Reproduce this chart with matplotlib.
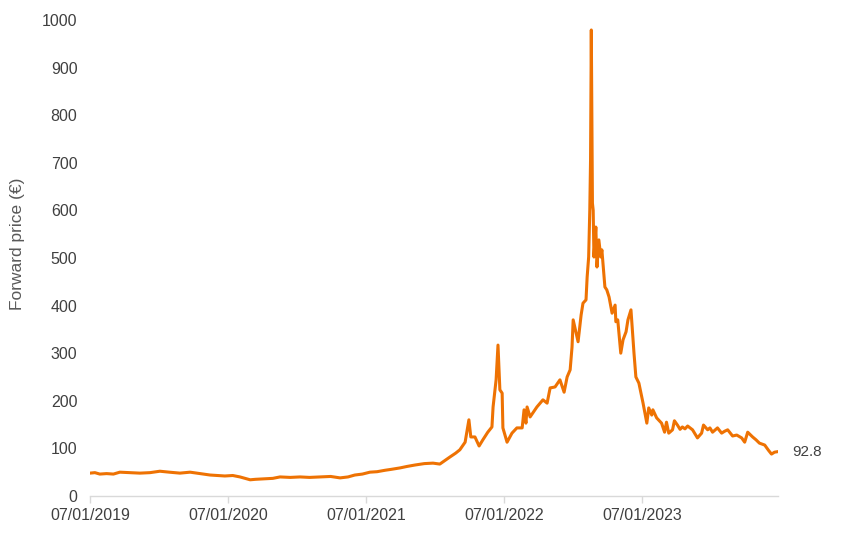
import matplotlib.pyplot as plt
import matplotlib.dates as mdates
import pandas as pd

# forward price series
dates = [
    "2019-01-07", "2019-01-20", "2019-02-02", "2019-02-20", "2019-03-10", "2019-03-27",
    "2019-04-20", "2019-05-19", "2019-06-15", "2019-07-11", "2019-08-05", "2019-09-02",
    "2019-09-29", "2019-10-25", "2019-11-21", "2019-12-30", "2020-01-20", "2020-02-08",
    "2020-03-06", "2020-03-20", "2020-04-14", "2020-05-05", "2020-05-24", "2020-06-20",
    "2020-07-16", "2020-08-10", "2020-09-07", "2020-10-05", "2020-10-30", "2020-11-20",
    "2020-12-08", "2020-12-28", "2021-01-17", "2021-02-05", "2021-02-26", "2021-03-15",
    "2021-04-07", "2021-04-25", "2021-05-16", "2021-06-10", "2021-07-03", "2021-07-21",
    "2021-08-17", "2021-09-01", "2021-09-12", "2021-09-26", "2021-10-06", "2021-10-11",
    "2021-10-22", "2021-11-02", "2021-11-12", "2021-11-25", "2021-12-06", "2021-12-09",
    "2021-12-17", "2021-12-22", "2021-12-27", "2022-01-02", "2022-01-04", "2022-01-15",
    "2022-01-28", "2022-02-10", "2022-02-24", "2022-03-01", "2022-03-06", "2022-03-09",
    "2022-03-17", "2022-04-04", "2022-04-20", "2022-05-01", "2022-05-09", "2022-05-22",
    "2022-06-04", "2022-06-15", "2022-06-23", "2022-07-01", "2022-07-06", "2022-07-09",
    "2022-07-22", "2022-07-30", "2022-08-04", "2022-08-12", "2022-08-15", "2022-08-19",
    "2022-08-22", "2022-08-24", "2022-08-26", "2022-08-29", "2022-08-31", "2022-09-02",
    "2022-09-07", "2022-09-10", "2022-09-15", "2022-09-20", "2022-09-23", "2022-10-01",
    "2022-10-06", "2022-10-12", "2022-10-20", "2022-10-28", "2022-10-30", "2022-11-04",
    "2022-11-12", "2022-11-18", "2022-11-26", "2022-12-01", "2022-12-09", "2022-12-17",
    "2022-12-22", "2022-12-30", "2023-01-10", "2023-01-20", "2023-01-25", "2023-02-02",
    "2023-02-05", "2023-02-15", "2023-02-28", "2023-03-08", "2023-03-13", "2023-03-19",
    "2023-03-29", "2023-04-03", "2023-04-11", "2023-04-18", "2023-04-24", "2023-05-01",
    "2023-05-08", "2023-05-21", "2023-06-03", "2023-06-14", "2023-06-19", "2023-06-30",
    "2023-07-06", "2023-07-13", "2023-07-26", "2023-08-06", "2023-08-14", "2023-08-22",
    "2023-09-04", "2023-09-15", "2023-09-28", "2023-10-06", "2023-10-14", "2023-10-27",
    "2023-11-05", "2023-11-14", "2023-11-28", "2023-12-08", "2023-12-16", "2023-12-24",
    "2023-12-30",
]
prices = [
    48, 49, 46, 47, 46, 50,
    49, 48, 49, 52, 50, 48,
    50, 47, 44, 42, 43, 40,
    34, 35, 36, 37, 40, 39,
    40, 39, 40, 41, 38, 40,
    44, 46, 50, 51, 54, 56,
    59, 62, 65, 68, 69, 67,
    82, 90, 97, 113, 160, 124,
    124, 105, 118, 134, 145, 187,
    244, 317, 223, 216, 143, 113,
    132, 143, 143, 181, 153, 187,
    166, 187, 202, 195, 227, 229,
    244, 218, 250, 265, 313, 370,
    324, 380, 405, 412, 460, 502,
    601, 706, 979, 615, 600, 502,
    565, 481, 538, 502, 517, 439,
    433, 418, 384, 401, 366, 370,
    300, 328, 345, 370, 391, 300,
    250, 237, 195, 153, 185, 170,
    181, 164, 153, 134, 155, 132,
    139, 158, 149, 140, 145, 141,
    147, 139, 122, 132, 149, 139,
    143, 134, 143, 132, 136, 139,
    126, 128, 122, 113, 134, 124,
    118, 111, 107, 96, 88, 92,
    92.8,
]
tick_dates = ["2019-01-07", "2020-01-07", "2021-01-07", "2022-01-07", "2023-01-07"]
last_label = "92.8"

dates = pd.to_datetime(dates)
tick_dates = pd.to_datetime(tick_dates)

line_color = "#EE7203"
text_color = "#404040"
fam = ['Liberation Sans', 'DejaVu Sans']
plt.rcParams['font.family'] = fam

fig = plt.figure(figsize=(8.41, 5.37), dpi=100)
ax = fig.add_axes([0.107, 0.0764, 0.818, 0.8864])

ax.plot(dates, prices, color=line_color, linewidth=2.2, solid_joinstyle='round')

ax.set_xlim(pd.Timestamp("2019-01-07"), pd.Timestamp("2024-01-02"))
ax.set_ylim(0, 1000)
ax.set_xticks(tick_dates)
ax.xaxis.set_major_formatter(mdates.DateFormatter('%d/%m/%Y'))
ax.set_yticks(range(0, 1001, 100))

for s in ['top', 'right', 'left']:
    ax.spines[s].set_visible(False)
ax.spines['bottom'].set_color('#d9d9d9')
ax.spines['bottom'].set_linewidth(1)
ax.tick_params(axis='x', colors='#d9d9d9', length=5, width=1, pad=4, labelcolor=text_color, labelsize=11.5)
ax.tick_params(axis='y', length=0, pad=9, labelcolor=text_color, labelsize=11.5)

ax.set_ylabel('Forward price (€)', fontsize=12.5, color='#595959')
ax.yaxis.set_label_coords(-0.094, 0.529)

ax.annotate(last_label, xy=(dates[-1], prices[-1]), xytext=(15, 0), textcoords='offset pixels',
            va='center', ha='left', fontsize=11, color=text_color)

fig.savefig('out.png', dpi=100, facecolor='white')
